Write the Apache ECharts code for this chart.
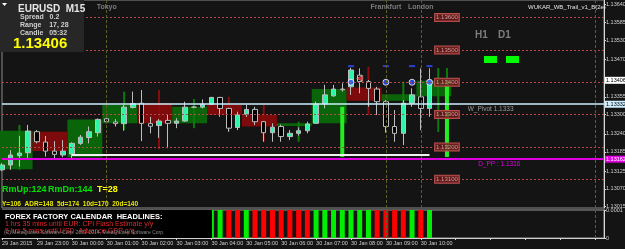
<!DOCTYPE html>
<html>
<head>
<meta charset="utf-8">
<script src="https://cdn.jsdelivr.net/npm/echarts@6/dist/echarts.min.js"></script>
<style>
html, body { margin: 0; padding: 0; background: #141414; }
#chart { width: 625px; height: 249px; }
</style>
</head>
<body>
<div id="chart"></div>
<script>
// M15 bars from 29 Jan 22:00, room left on the right like the terminal's chart shift
const barTimes = [];
for (let i = 0; i < 70; i++) {
    const m = 22 * 60 + i * 15;
    const day = m >= 1440 ? 30 : 29;
    const mm = m % 1440;
    barTimes.push(day + ' Jan ' + String(Math.floor(mm / 60)).padStart(2, '0') + ':' + String(mm % 60).padStart(2, '0'));
}
const tickLabels = ['29 Jan 2015', '29 Jan 23:00', '30 Jan 00:00', '30 Jan 01:00', '30 Jan 02:00', '30 Jan 03:00',
    '30 Jan 04:00', '30 Jan 05:00', '30 Jan 06:00', '30 Jan 07:00', '30 Jan 08:00', '30 Jan 09:00', '30 Jan 10:00'];
const priceTicks = [1.13640, 1.13585, 1.13530, 1.13470, 1.13355, 1.13300, 1.13240, 1.13185, 1.13125, 1.13070, 1.13015];

// [open, close, low, high]
const candles = [
    [1.13129, 1.13144, 1.13125, 1.13150], [1.13144, 1.13175, 1.13129, 1.13190], [1.13173, 1.13181, 1.13139, 1.13234],
    [1.13182, 1.13249, 1.13160, 1.13268], [1.13247, 1.13216, 1.13211, 1.13252], [1.13215, 1.13187, 1.13170, 1.13234],
    [1.13187, 1.13177, 1.13160, 1.13218], [1.13175, 1.13187, 1.13168, 1.13221], [1.13178, 1.13211, 1.13165, 1.13214],
    [1.13211, 1.13230, 1.13206, 1.13237], [1.13229, 1.13247, 1.13211, 1.13263], [1.13244, 1.13285, 1.13232, 1.13288],
    [1.13287, 1.13278, 1.13273, 1.13292], [1.13277, 1.13272, 1.13263, 1.13286], [1.13272, 1.13323, 1.13250, 1.13330],
    [1.13322, 1.13334, 1.13319, 1.13371], [1.13335, 1.13273, 1.13218, 1.13376], [1.13272, 1.13264, 1.13242, 1.13293],
    [1.13266, 1.13280, 1.13228, 1.13286], [1.13282, 1.13273, 1.13196, 1.13299], [1.13273, 1.13280, 1.13258, 1.13289],
    [1.13280, 1.13323, 1.13278, 1.13340], [1.13323, 1.13323, 1.13320, 1.13326], [1.13323, 1.13332, 1.13319, 1.13347],
    [1.13332, 1.13353, 1.13330, 1.13355], [1.13353, 1.13319, 1.13293, 1.13355], [1.13319, 1.13258, 1.13247, 1.13321],
    [1.13260, 1.13299, 1.13252, 1.13309], [1.13301, 1.13316, 1.13293, 1.13330], [1.13316, 1.13278, 1.13268, 1.13324],
    [1.13278, 1.13244, 1.13216, 1.13280], [1.13244, 1.13261, 1.13216, 1.13273], [1.13263, 1.13232, 1.13216, 1.13269],
    [1.13232, 1.13242, 1.13221, 1.13252], [1.13242, 1.13250, 1.13235, 1.13260], [1.13250, 1.13271, 1.13242, 1.13278],
    [1.13273, 1.13332, 1.13271, 1.13340], [1.13333, 1.13361, 1.13319, 1.13392], [1.13358, 1.13379, 1.13355, 1.13392],
    [1.13379, 1.13377, 1.13371, 1.13397], [1.13386, 1.13438, 1.13361, 1.13445], [1.13422, 1.13402, 1.13366, 1.13443],
    [1.13402, 1.13381, 1.13324, 1.13407], [1.13379, 1.13340, 1.13299, 1.13386], [1.13340, 1.13263, 1.13244, 1.13345],
    [1.13263, 1.13242, 1.13216, 1.13314], [1.13242, 1.13335, 1.13206, 1.13345], [1.13335, 1.13361, 1.13324, 1.13381],
    [1.13355, 1.13319, 1.13252, 1.13443], [1.13319, 1.13406, 1.13293, 1.13443]
];

// hourly blocks [firstBar, lastBar, top, bottom]
const bullBoxes = [[0, 3, 1.13250, 1.13131], [8, 11, 1.13285, 1.13168], [12, 15, 1.13330, 1.13273], [20, 23, 1.13324, 1.13273],
    [32, 35, 1.13273, 1.13265], [36, 39, 1.13379, 1.13273], [44, 47, 1.13363, 1.13343], [48, 51, 1.13405, 1.13357]];
const bearBoxes = [[4, 7, 1.13247, 1.13187], [16, 19, 1.13335, 1.13273], [24, 27, 1.13330, 1.13299], [28, 31, 1.13299, 1.13263],
    [40, 43, 1.13384, 1.13343]];
// thin lines [bar, top, bottom]
const greenLines = [[2, 1.13268, 1.13129], [14, 1.13371, 1.13252], [22, 1.13348, 1.13258], [34, 1.13278, 1.13216],
    [46, 1.13402, 1.13314], [50, 1.13444, 1.13246], [51, 1.13444, 1.13169]];
const redLines = [[18, 1.13376, 1.13193], [26, 1.13355, 1.13247], [30, 1.13330, 1.13216], [42, 1.13448, 1.13299]];
const limeBars = [[39, 1.13324, 1.13169], [51, 1.13406, 1.13169]];

const roundLevels = [1.13600, 1.13500, 1.13400, 1.13300, 1.13200, 1.13100];
const weeklyPivot = 1.13332;
const dailyPivot = 1.13162;
const lastPrice = 1.13406;
const supportLine = 1.13177;
const sessionBars = [12, 44, 48, 68];
const sessionNames = ['Tokyo', 'Frankfurt', 'London', ''];
const dotBars = [40, 44, 47, 49];
const dotLevel = 1.13400;
const dashLevel = 1.13450;

const histUp = [];
const histDown = [];
const upBars = { 23: 0.000012, 24: 0.0001, 25: 0.0001, 28: 0.0001, 36: 0.0001, 37: 0.0001, 38: 0.0001, 39: 0.0001,
    40: 0.0001, 41: 0.0001, 42: 0.0001, 47: 0.0001, 49: 0.0001 };
const downBars = { 26: 0.0001, 27: 0.0001, 29: 0.0001, 30: 0.0001, 31: 0.0001, 32: 0.0001, 33: 0.0001, 34: 0.0001,
    35: 0.0001, 43: 0.0001, 44: 0.0001, 45: 0.0001, 46: 0.0001, 48: 0.0001 };
for (let i = 0; i < 50; i++) {
    histUp.push(upBars[i] ?? '-');
    histDown.push(downBars[i] ?? '-');
}

const font = 'Liberation Sans';
const chart = echarts.init(document.getElementById('chart'));

function boxSeries(data, color) {
    return {
        type: 'custom', xAxisIndex: 0, yAxisIndex: 0, z: 1, silent: true,
        encode: { x: [0, 1], y: [2, 3] },
        renderItem(params, api) {
            const half = api.size([1, 0])[0] / 2;
            const a = api.coord([api.value(0), api.value(2)]);
            const b = api.coord([api.value(1), api.value(3)]);
            return {
                type: 'rect',
                shape: { x: a[0] - half, y: a[1], width: b[0] - a[0] + 2 * half, height: b[1] - a[1] },
                style: { fill: color }
            };
        },
        data: data
    };
}

function lineSeries(data, color, width, z) {
    return {
        type: 'custom', xAxisIndex: 0, yAxisIndex: 0, z: z, silent: true,
        encode: { x: 0, y: [1, 2] },
        renderItem(params, api) {
            const a = api.coord([api.value(0), api.value(1)]);
            const b = api.coord([api.value(0), api.value(2)]);
            return {
                type: 'rect',
                shape: { x: a[0] - width / 2, y: a[1], width: width, height: b[1] - a[1] },
                style: { fill: color }
            };
        },
        data: data
    };
}

const axisLabelStyle = { color: '#cfcfcf', fontSize: 5.5, fontFamily: font };

function endLabel(text, bg, fg) {
    return { show: true, position: 'end', distance: 1, formatter: text, backgroundColor: bg, color: fg,
        fontSize: 5.5, fontFamily: font, padding: [1, 1, 0, 1] };
}

function sessionLines() {
    return sessionBars.map(i => ({
        xAxis: barTimes[i], lineStyle: { color: '#5e5e28', type: [3, 2], width: 1 }, label: { show: false }
    }));
}

const option = {
    backgroundColor: '#141414',
    animation: false,
    textStyle: { fontFamily: font },
    grid: [
        { left: 2, right: 21, top: 0, height: 208, show: true, borderColor: '#8a8a8a', borderWidth: 1,
          containLabel: false, outerBoundsMode: 'none' },
        { left: 2, right: 21, top: 210, height: 28, show: true, borderColor: '#9a9a9a', borderWidth: 1,
          containLabel: false, outerBoundsMode: 'none' }
    ],
    xAxis: [
        { type: 'category', gridIndex: 0, data: barTimes, boundaryGap: false,
          axisLine: { show: false }, axisTick: { show: false }, axisLabel: { show: false }, splitLine: { show: false } },
        { type: 'category', gridIndex: 1, data: barTimes, boundaryGap: false,
          axisLine: { lineStyle: { color: '#d0d0d0' } },
          axisTick: { interval: 3, length: 2, lineStyle: { color: '#d0d0d0' } },
          axisLabel: { interval: 3, align: 'left', margin: 2, color: '#cfcfcf', fontSize: 5.5, fontFamily: font,
              formatter: (v, idx) => tickLabels[idx / 4] ?? '' },
          splitLine: { show: false } }
    ],
    yAxis: [
        { type: 'value', gridIndex: 0, position: 'right', min: 1.13011, max: 1.136545, scale: true,
          axisLine: { show: true, lineStyle: { color: '#d8d8d8' } },
          axisTick: { show: true, customValues: priceTicks, length: 2, lineStyle: { color: '#d8d8d8' } },
          axisLabel: Object.assign({ customValues: priceTicks, margin: 2, formatter: v => v.toFixed(5) }, axisLabelStyle),
          splitLine: { show: false } },
        { type: 'value', gridIndex: 1, position: 'right', min: 0, max: 0.0001,
          axisLine: { show: true, lineStyle: { color: '#d8d8d8' } },
          axisTick: { show: true, customValues: [0, 0.0001], length: 2 },
          axisLabel: Object.assign({ customValues: [0, 0.0001], margin: 2,
              formatter: v => (v === 0 ? '0' : '0.0001') }, axisLabelStyle),
          splitLine: { show: false } }
    ],
    series: [
        boxSeries(bullBoxes, '#0a650a'),
        boxSeries(bearBoxes, '#7d0b0b'),
        lineSeries(greenLines, '#0b7a0b', 2, 1.5),
        lineSeries(redLines, '#8a0c0c', 2, 1.5),
        {
            type: 'candlestick', xAxisIndex: 0, yAxisIndex: 0, z: 2, barWidth: 5,
            data: candles,
            itemStyle: { color: '#2ef5a8', color0: '#000000', borderColor: '#bdbdbd', borderColor0: '#bdbdbd', borderWidth: 1 },
            markLine: {
                silent: true, symbol: 'none', animation: false, precision: 5,
                data: [
                    ...roundLevels.map(v => ({ yAxis: v, lineStyle: { color: '#b54848', type: [2, 2], width: 1 }, label: { show: false } })),
                    ...sessionLines(),
                    [{ coord: [8, supportLine] }, { coord: [49, supportLine], lineStyle: { color: '#f0f0f0', width: 2, type: 'solid' }, label: { show: false } }],
                    { yAxis: weeklyPivot, lineStyle: { color: '#cdefff', width: 1.5, type: 'solid' }, label: endLabel(weeklyPivot.toFixed(5), '#cdefff', '#000') },
                    { yAxis: dailyPivot, lineStyle: { color: '#e000e0', width: 2, type: 'solid' }, label: endLabel(dailyPivot.toFixed(5), '#e000e0', '#fff') },
                    { yAxis: lastPrice, lineStyle: { color: 'rgba(0,0,0,0)', width: 0 }, label: endLabel(lastPrice.toFixed(5), '#ffffff', '#000') }
                ]
            },
            markPoint: {
                silent: true, symbol: 'rect', symbolSize: 1, itemStyle: { color: 'rgba(0,0,0,0)' },
                data: [
                    ...sessionBars.map((b, k) => ({ name: sessionNames[k], coord: [b, 1.13633],
                        label: { show: !!sessionNames[k], formatter: '{b}', color: '#7c7c7c', fontSize: 7, fontWeight: 'bold' } })),
                    ...roundLevels.map(v => ({ name: v.toFixed(5), coord: [51, v],
                        label: { show: true, formatter: '{b}', color: '#d89a9a', fontSize: 6, backgroundColor: 'rgba(110,25,25,0.75)',
                            borderColor: '#b85050', borderWidth: 1, padding: [1, 1, 0, 1] } })),
                    { name: 'W_Pivot 1.1333', coord: [56, weeklyPivot],
                      label: { show: true, formatter: '{b}', color: '#9a9a9a', fontSize: 6.5, offset: [0, 5] } },
                    { name: 'D_PP : 1.1316', coord: [57, dailyPivot],
                      label: { show: true, formatter: '{b}', color: '#e000e0', fontSize: 6.5, offset: [0, 5] } }
                ]
            }
        },
        lineSeries(limeBars, '#22ee22', 4, 3),
        {
            type: 'scatter', xAxisIndex: 0, yAxisIndex: 0, z: 4, symbol: 'rect', symbolSize: [6, 2],
            itemStyle: { color: '#2f4cff' }, data: dotBars.map(b => [b, dashLevel])
        },
        {
            type: 'scatter', xAxisIndex: 0, yAxisIndex: 0, z: 4, symbol: 'circle', symbolSize: 6,
            itemStyle: { color: '#2f4cff', borderColor: '#ffffff', borderWidth: 1 }, data: dotBars.map(b => [b, dotLevel])
        },
        {
            type: 'scatter', xAxisIndex: 0, yAxisIndex: 0, z: 4, symbol: 'triangle', symbolRotate: 90, symbolSize: 6,
            itemStyle: { color: '#ff2020', borderColor: '#ffffff', borderWidth: 0.5 }, data: [[41, 1.13412]]
        },
        {
            type: 'bar', xAxisIndex: 1, yAxisIndex: 1, barWidth: 5, barGap: '-100%',
            itemStyle: { color: '#00ee00' }, data: histUp,
            markLine: { silent: true, symbol: 'none', data: sessionLines() }
        },
        {
            type: 'bar', xAxisIndex: 1, yAxisIndex: 1, barWidth: 5, barGap: '-100%',
            itemStyle: { color: '#ff0000' }, data: histDown
        }
    ],
    graphic: [
        { type: 'rect', z: 100, shape: { x: 0, y: 0, width: 84, height: 52 }, style: { fill: '#272727' } },
        { type: 'polygon', z: 101, shape: { points: [[2, 3], [7, 3], [4.5, 6]] }, style: { fill: '#ffffff' } },
        { type: 'text', z: 101, x: 18, y: 9, style: { text: 'EURUSD  M15', fill: '#e6e6e6', font: 'bold 10px ' + font, textVerticalAlign: 'middle' } },
        { type: 'text', z: 101, x: 20, y: 17.5, style: { text: 'Spread   0.2', fill: '#cfcfcf', font: 'bold 7px ' + font, textVerticalAlign: 'middle' } },
        { type: 'text', z: 101, x: 20, y: 25, style: { text: 'Range    17, 28', fill: '#cfcfcf', font: 'bold 7px ' + font, textVerticalAlign: 'middle' } },
        { type: 'text', z: 101, x: 20, y: 33, style: { text: 'Candle   05:32', fill: '#cfcfcf', font: 'bold 7px ' + font, textVerticalAlign: 'middle' } },
        { type: 'text', z: 101, x: 13, y: 44, style: { text: '1.13406', fill: '#ffff00', font: 'bold 15px ' + font, textVerticalAlign: 'middle' } },
        { type: 'text', z: 101, x: 528, y: 7, style: { text: 'WUKAR_WB_Trail_v1_B(2e)', fill: '#e6e6e6', font: '6px ' + font, textVerticalAlign: 'middle' } },
        { type: 'text', z: 101, x: 475, y: 35, style: { text: 'H1', fill: '#7e7e7e', font: 'bold 10px ' + font, textVerticalAlign: 'middle' } },
        { type: 'text', z: 101, x: 498, y: 35, style: { text: 'D1', fill: '#7e7e7e', font: 'bold 10px ' + font, textVerticalAlign: 'middle' } },
        { type: 'rect', z: 101, shape: { x: 484, y: 56, width: 13, height: 7 }, style: { fill: '#00ff00' } },
        { type: 'rect', z: 101, shape: { x: 506, y: 56, width: 13, height: 7 }, style: { fill: '#00ff00' } },
        { type: 'text', z: 101, x: 2, y: 190, style: { text: 'RmUp:124', fill: '#00e000', font: 'bold 9px ' + font, textVerticalAlign: 'middle' } },
        { type: 'text', z: 101, x: 48, y: 190, style: { text: 'RmDn:144', fill: '#00e000', font: 'bold 9px ' + font, textVerticalAlign: 'middle' } },
        { type: 'text', z: 101, x: 97, y: 190, style: { text: 'T=28', fill: '#ffff00', font: 'bold 9px ' + font, textVerticalAlign: 'middle' } },
        { type: 'text', z: 101, x: 2, y: 204, style: { text: 'Y=106  ADR=148  5d=174  10d=170  20d=140', fill: '#e8e800', font: 'bold 6.5px ' + font, textVerticalAlign: 'middle' } },
        { type: 'rect', z: 100, shape: { x: 0, y: 210, width: 212, height: 28 }, style: { fill: '#000000' } },
        { type: 'text', z: 101, x: 5, y: 216.5, style: { text: 'FOREX FACTORY CALENDAR  HEADLINES:', fill: '#ffffff', font: 'bold 7.5px ' + font, textVerticalAlign: 'middle' } },
        { type: 'text', z: 101, x: 5, y: 224, style: { text: '1 hrs 35 mins until EUR: CPI Flash Estimate y/y', fill: '#e02828', font: '7px ' + font, textVerticalAlign: 'middle' } },
        { type: 'text', z: 101, x: 5, y: 231.5, style: { text: '5 hrs 5 mins until USD: Advance GDP q/q', fill: '#e02828', font: '7px ' + font, textVerticalAlign: 'middle' } },
        { type: 'text', z: 102, x: 4, y: 233, style: { text: '(C) MetaQuotes Software Corp. 2001-2014, MetaQuotes Software Corp.', fill: '#8a8a8a', font: '5px ' + font, textVerticalAlign: 'middle' } }
    ]
};

chart.setOption(option);
</script>
</body>
</html>
